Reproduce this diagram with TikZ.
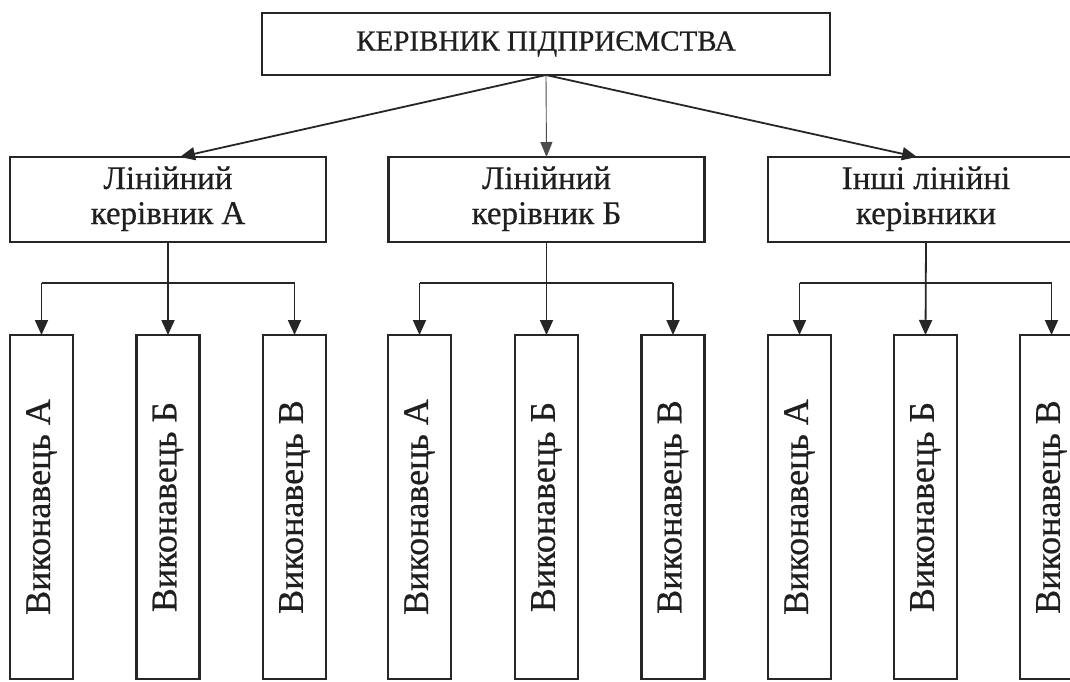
\documentclass[tikz,border=0pt]{standalone}
\usepackage{fontspec}
\usepackage{graphicx}
\setmainfont{Liberation Serif}
\newfontfamily\scanfont{Liberation Serif}[FakeBold=0.6]
\usetikzlibrary{arrows.meta,calc}
\newcommand{\twolines}[2]{\raisebox{-4pt}{\begin{tabular}{@{}c@{}}#1\\#2\end{tabular}}}
\begin{document}
\begin{tikzpicture}[x=1pt,y=-1pt,
  box/.style={draw=black!85,line width=2.8pt,fill=white,inner sep=0pt,outer sep=0pt,align=center,text=black!88},
  topbox/.style={box,minimum width=568pt,minimum height=62pt,font=\scanfont\fontsize{29}{32}\selectfont},
  midbox/.style={box,minimum width=316pt,minimum height=85pt,font=\scanfont\fontsize{33}{35}\selectfont},
  exbox/.style={box,minimum width=63pt,minimum height=344pt,font=\scanfont\fontsize{36}{38}\selectfont},
  conn/.style={draw=black!85,line width=1.8pt},
  arr/.style={conn,-{Triangle[length=15pt,width=13pt]}},
  thin/.style={draw=black!70,line width=0.9pt,-{Triangle[length=15pt,width=12pt]}}
]
\clip (0,0) rectangle (1070,681);
\fill[white] (0,0) rectangle (1070,681);

\node[topbox] (top) at (546,44) {КЕРІВНИК ПІДПРИЄМСТВА};

\node[midbox] (midA) at (168,199.5) {\twolines{Лінійний}{керівник А}};
\node[midbox] (midB) at (546.5,199.5) {\twolines{Лінійний}{керівник Б}};
\node[midbox] (midC) at (926,199.5) {\twolines{Інші лінійні}{керівники}};

\node[exbox] (exA1) at (41.5,507) {\rotatebox{90}{Виконавець А}};
\node[exbox] (exA2) at (168,507) {\rotatebox{90}{Виконавець Б}};
\node[exbox] (exA3) at (294.5,507) {\rotatebox{90}{Виконавець В}};
\node[exbox] (exB1) at (419.5,507) {\rotatebox{90}{Виконавець А}};
\node[exbox] (exB2) at (546.5,507) {\rotatebox{90}{Виконавець Б}};
\node[exbox] (exB3) at (673,507) {\rotatebox{90}{Виконавець В}};
\node[exbox] (exC1) at (799.5,507) {\rotatebox{90}{Виконавець А}};
\node[exbox] (exC2) at (925.5,507) {\rotatebox{90}{Виконавець Б}};
\node[exbox] (exC3) at (1051.5,507) {\rotatebox{90}{Виконавець В}};

% top to middle
\draw[arr] (top.south) -- ([xshift=12pt]midA.north);
\draw[thin] (top.south) -- (midB.north);
\draw[arr] (top.south) -- ([xshift=-9pt]midC.north);

% groups
\foreach \g in {A,B,C}{
  \coordinate (bar\g) at ($(mid\g.south)+(0,41)$);
  \draw[conn] (ex\g1.north |- bar\g) -- (ex\g3.north |- bar\g);
  \draw[arr] (mid\g.south) -- (ex\g2.north);
  \draw[arr] (ex\g1.north |- bar\g) -- (ex\g1.north);
  \draw[arr] (ex\g3.north |- bar\g) -- (ex\g3.north);
}
\end{tikzpicture}
\end{document}
